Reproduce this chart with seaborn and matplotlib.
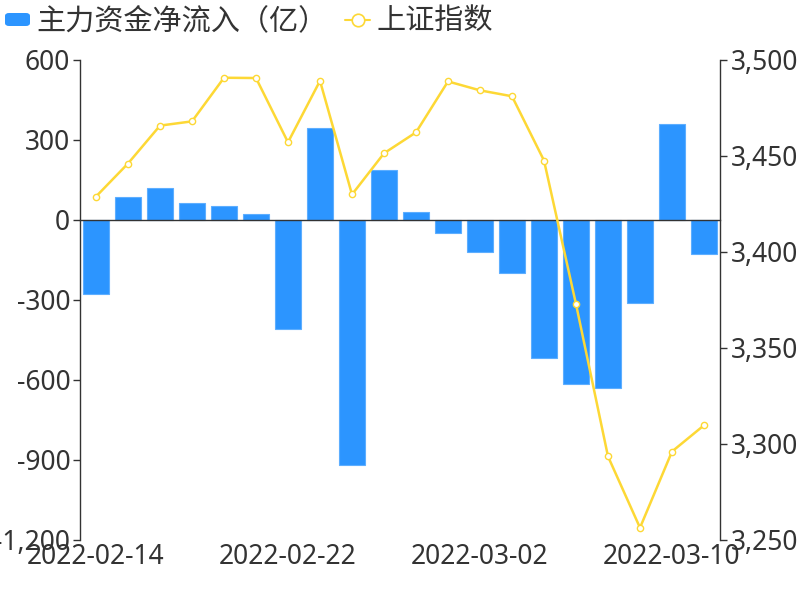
import numpy as np
import pandas as pd
import matplotlib
matplotlib.use("Agg")
import matplotlib.pyplot as plt
import matplotlib.ticker as mticker
from matplotlib.patches import FancyBboxPatch
from matplotlib.lines import Line2D
import seaborn as sns

dates = ["2022-02-14", "2022-02-15", "2022-02-16", "2022-02-17", "2022-02-18",
         "2022-02-21", "2022-02-22", "2022-02-23", "2022-02-24", "2022-02-25",
         "2022-02-28", "2022-03-01", "2022-03-02", "2022-03-03", "2022-03-04",
         "2022-03-07", "2022-03-08", "2022-03-09", "2022-03-10", "2022-03-11"]
net_inflow = [-278, 87, 119, 62, 51, 22, -410, 346, -920, 187,
              29, -47, -121, -198, -517, -615, -630, -312, 359, -126]
sse_index = [3428.88, 3446.09, 3465.83, 3468.04, 3490.76, 3490.61, 3457.15, 3489.15,
             3429.96, 3451.41, 3462.31, 3488.84, 3484.19, 3481.11, 3447.65, 3372.86,
             3293.53, 3256.39, 3296.09, 3309.75]
left_ticks = [-1200, -900, -600, -300, 0, 300, 600]
right_ticks = [3250, 3300, 3350, 3400, 3450, 3500]
label_dates = ["2022-02-14", "2022-02-22", "2022-03-02", "2022-03-10"]

legend_bar = "主力资金净流入（亿）"
legend_line = "上证指数"

BAR_C = "#2C95FF"
LINE_C = "#FDD835"
TXT = "#333333"
FS = 19

sns.set_theme(style="white")
plt.rcParams["font.family"] = ["Noto Sans", "Noto Sans CJK SC", "DejaVu Sans"]

df = pd.DataFrame({"date": dates, "flow": net_inflow, "sse": sse_index})
df["idx"] = np.arange(len(df))

fig = plt.figure(figsize=(8, 6), dpi=100)
ax = fig.add_axes([0.1, 0.1, 0.8, 0.8])

sns.barplot(data=df, x="date", y="flow", color=BAR_C, saturation=1,
            edgecolor="#5DAEFF", linewidth=0.8, width=0.8, ax=ax, zorder=2)
ax.set_xlim(-0.5, len(dates) - 0.5)
ax.set_ylim(-1200, 600)
ax.set_yticks(left_ticks)
ax.yaxis.set_major_formatter(mticker.FuncFormatter(lambda v, p: f"{int(v):,}"))
ax.set_xlabel("")
ax.set_ylabel("")

for s in ["top", "right"]:
    ax.spines[s].set_visible(False)
ax.spines["left"].set_color(TXT)
ax.spines["left"].set_linewidth(1)
ax.spines["bottom"].set_position(("data", 0))
ax.spines["bottom"].set_color(TXT)
ax.spines["bottom"].set_linewidth(1)

# boundary ticks on the zero line
ax.set_xticks(np.arange(0, len(dates) + 1, 6) - 0.5)
ax.set_xticklabels([])
ax.tick_params(axis="x", which="major", length=5, width=1, color=TXT, direction="out")
ax.tick_params(axis="y", length=5, width=1, color=TXT, labelcolor=TXT,
               labelsize=FS, left=True, pad=2)

# labels at the bottom
sec = ax.secondary_xaxis(0)
pos = [dates.index(d) for d in label_dates]
sec.set_xticks(pos)
sec.set_xticklabels(label_dates)
sec.tick_params(length=0, labelsize=FS, labelcolor=TXT, pad=2)
sec.spines["bottom"].set_visible(False)

ax2 = ax.twinx()
sns.lineplot(data=df, x="idx", y="sse", color=LINE_C, linewidth=1.8, marker="o",
             markersize=4.5, markerfacecolor="white", markeredgecolor=LINE_C,
             markeredgewidth=1, ax=ax2)
ax2.set_xlim(-0.5, len(dates) - 0.5)
ax2.set_ylim(3250, 3500)
ax2.set_yticks(right_ticks)
ax2.yaxis.set_major_formatter(mticker.FuncFormatter(lambda v, p: f"{int(v):,}"))
ax2.set_ylabel("")
ax2.set_xlabel("")
for s in ["top", "left", "bottom"]:
    ax2.spines[s].set_visible(False)
ax2.spines["right"].set_color(TXT)
ax2.spines["right"].set_linewidth(1)
ax2.tick_params(axis="y", length=5, width=1, color=TXT, labelcolor=TXT,
                labelsize=FS, right=True, pad=3)
ax2.grid(False)
ax.grid(False)

# legend
W, H = 800, 600
fig.patches.append(FancyBboxPatch((5 / W, 1 - 26 / H), 25 / W, 13 / H,
                                  boxstyle="round,pad=0,rounding_size=0.005",
                                  transform=fig.transFigure, facecolor=BAR_C,
                                  edgecolor="none"))
fig.text(36 / W, 1 - 21 / H, legend_bar, fontsize=21, color=TXT, va="center", ha="left",
         family=["Noto Sans CJK SC", "DejaVu Sans"])
fig.lines.append(Line2D([345 / W, 370 / W], [1 - 19.5 / H, 1 - 19.5 / H],
                        transform=fig.transFigure, color=LINE_C, linewidth=1.5))
fig.lines.append(Line2D([357.5 / W], [1 - 19.5 / H], transform=fig.transFigure,
                        marker="o", markersize=9, markerfacecolor="white",
                        markeredgecolor=LINE_C, markeredgewidth=1.2, linestyle="none"))
fig.text(376 / W, 1 - 21 / H, legend_line, fontsize=21, color=TXT, va="center", ha="left",
         family=["Noto Sans CJK SC", "DejaVu Sans"])

fig.savefig("out.png", dpi=100)
